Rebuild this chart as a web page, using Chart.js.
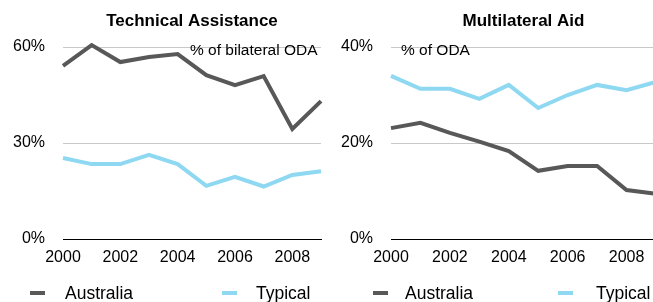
<!DOCTYPE html>
<html>
<head>
<meta charset="utf-8">
<script src="https://cdn.jsdelivr.net/npm/chart.js@4/dist/chart.umd.min.js"></script>
<style>
  html, body { margin: 0; padding: 0; background: #fff; overflow: hidden; }
  body { width: 653px; height: 302px; position: relative; }
  .panel { position: absolute; top: 0; height: 302px; }
  #taPanel { left: 0; width: 326px; }
  #maPanel { left: 326px; width: 330px; }
</style>
</head>
<body>
<div class="panel" id="taPanel"><canvas id="taChart"></canvas></div>
<div class="panel" id="maPanel"><canvas id="maChart"></canvas></div>
<script>
// Data
const years = ['2000', '2001', '2002', '2003', '2004', '2005', '2006', '2007', '2008', '2009'];
const seriesNames = ['Australia', 'Typical'];

// Technical assistance, % of bilateral ODA
const taAustralia = [54.1, 60.6, 55.3, 56.9, 57.8, 51.2, 48.1, 50.9, 34.4, 43.1];
const taTypical = [25.3, 23.4, 23.4, 26.3, 23.4, 16.6, 19.4, 16.4, 20.0, 21.2];
const taTicks = [0, 30, 60];

// Multilateral aid, % of ODA
const maAustralia = [23.1, 24.2, 22.1, 20.3, 18.3, 14.2, 15.2, 15.2, 10.2, 9.4];
const maTypical = [34.0, 31.3, 31.3, 29.2, 32.1, 27.3, 30.0, 32.1, 31.0, 32.7];
const maTicks = [0, 20, 40];

const COLORS = { Australia: '#585858', Typical: '#8ed8f2' };
const FONT = '"Liberation Sans", Arial, Helvetica, sans-serif';

// titles, note text and legend are drawn here
const panelText = {
    id: 'panelText',
    afterDraw(chart, args, opts) {
        const ctx = chart.ctx;
        const area = chart.chartArea;
        ctx.save();
        ctx.fillStyle = '#000';
        ctx.textBaseline = 'middle';

        // title
        ctx.font = 'bold 17px ' + FONT;
        ctx.textAlign = 'center';
        ctx.fillText(opts.title, (area.left + area.right) / 2, 21);

        // unit note
        ctx.font = '15.5px ' + FONT;
        ctx.textAlign = 'left';
        ctx.fillText(opts.note, opts.noteX, 51);

        // legend
        ctx.font = '17.5px ' + FONT;
        chart.data.datasets.forEach((ds, i) => {
            const pos = opts.legend[i];
            ctx.strokeStyle = ds.borderColor;
            ctx.lineWidth = 4;
            ctx.beginPath();
            ctx.moveTo(pos.line, 293);
            ctx.lineTo(pos.line + 15, 293);
            ctx.stroke();
            ctx.fillText(ds.label, pos.text, 294);
        });
        ctx.restore();
    }
};

function makeChart(canvasId, australia, typical, ticks, text, axisWidth) {
    const ctx = document.getElementById(canvasId).getContext('2d');
    return new Chart(ctx, {
        type: 'line',
        data: {
            labels: years,
            datasets: [
                { label: seriesNames[0], data: australia, borderColor: COLORS.Australia },
                { label: seriesNames[1], data: typical, borderColor: COLORS.Typical }
            ].map(ds => Object.assign(ds, {
                borderWidth: 4,
                pointRadius: 0,
                tension: 0,
                fill: false,
                clip: false
            }))
        },
        options: {
            responsive: true,
            maintainAspectRatio: false,
            animation: false,
            layout: { padding: { top: 47, right: text.padRight, left: 0, bottom: 0 } },
            plugins: {
                legend: { display: false },
                tooltip: { enabled: false },
                panelText: text
            },
            scales: {
                x: {
                    grid: { display: false },
                    border: { display: true, color: '#000', width: 1 },
                    ticks: {
                        autoSkip: false,
                        maxRotation: 0,
                        padding: 1,
                        color: '#000',
                        font: { family: FONT, size: 16 },
                        callback: (v, i) => (i % 2 === 0 ? years[i] : null)
                    },
                    afterFit: s => { s.height = 63; }
                },
                y: {
                    min: ticks[0],
                    max: ticks[ticks.length - 1],
                    afterBuildTicks: s => { s.ticks = ticks.map(v => ({ value: v })); },
                    grid: {
                        drawTicks: false,
                        color: c => (c.tick && c.tick.value === 0 ? 'rgba(0,0,0,0)' : '#c8c8c8'),
                        lineWidth: 1
                    },
                    border: { display: false },
                    ticks: {
                        padding: 18,
                        color: '#000',
                        font: { family: FONT, size: 16 },
                        callback: v => v + '%'
                    },
                    afterFit: s => { s.width = axisWidth; }
                }
            }
        },
        plugins: [panelText]
    });
}

document.addEventListener('DOMContentLoaded', () => {
    makeChart('taChart', taAustralia, taTypical, taTicks, {
        title: 'Technical Assistance',
        note: '% of bilateral ODA',
        noteX: 190,
        padRight: 5,
        legend: [{ line: 30, text: 65 }, { line: 222, text: 256 }]
    }, 63);

    makeChart('maChart', maAustralia, maTypical, maTicks, {
        title: 'Multilateral Aid',
        note: '% of ODA',
        noteX: 75,
        padRight: 0,
        legend: [{ line: 47, text: 79 }, { line: 232, text: 270 }]
    }, 65);
});
</script>
</body>
</html>
